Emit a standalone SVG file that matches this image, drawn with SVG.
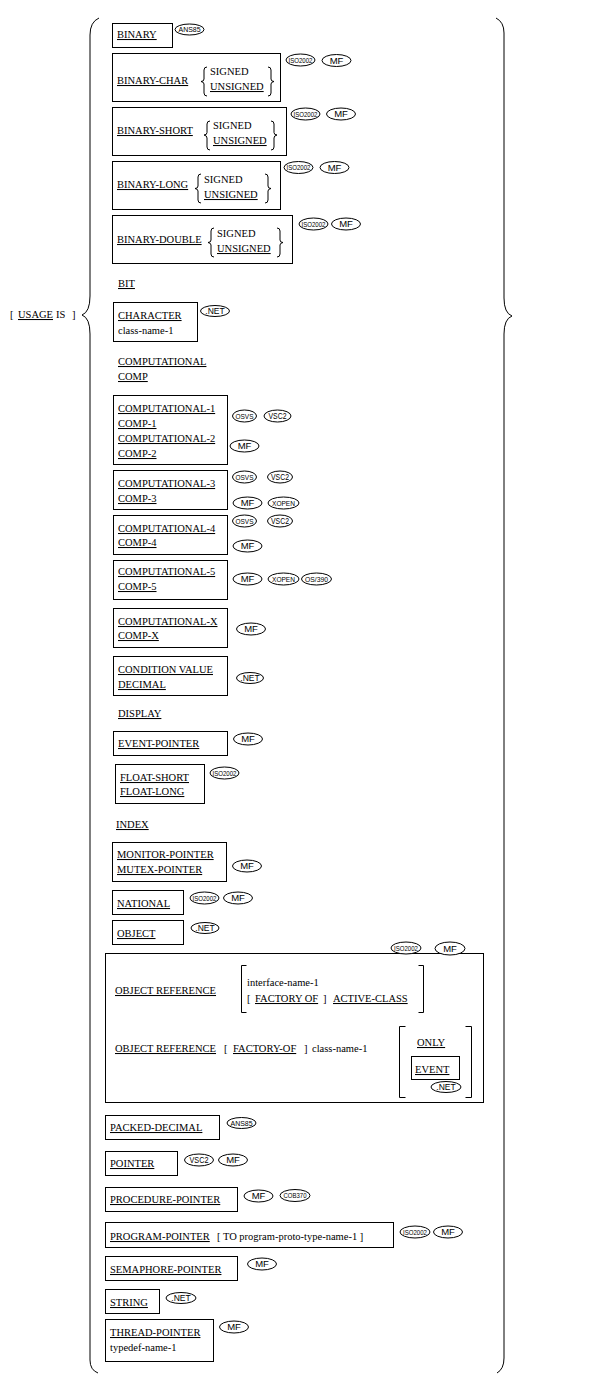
<svg xmlns="http://www.w3.org/2000/svg" width="595" height="1392" viewBox="0 0 595 1392">
<style>
.t{font-family:"Liberation Serif","Times New Roman",serif;font-size:10.5px;fill:#000}
.u{text-decoration:underline}
.box{fill:none;stroke:#000;stroke-width:1}
.br{fill:none;stroke:#000;stroke-width:1}
.bd ellipse{fill:#fff;stroke:#000;stroke-width:1}
.bd text{font-family:"Liberation Sans",Arial,sans-serif;text-anchor:middle;fill:#000}
.s{font-size:7.5px}
.m{font-size:9.5px}
.n{font-size:8.5px}
</style>
<rect width="595" height="1392" fill="#fff"/>
<g id="brackets">
  <path class="br" d="M99,18 Q90,22 90,35 L90,296 Q90,312 82,315 Q90,318 90,334 L90,1360 Q90,1370 98,1373"/>
  <path class="br" d="M496,18 Q504,22 504,33 L504,298 Q504,313 512,316 Q504,319 504,334 L504,1358 Q504,1369 497,1373"/>
</g>
<g id="usage">
  <text class="t" x="10" y="318">[</text>
  <text class="t u" x="18" y="318">USAGE</text>
  <text class="t" x="56" y="318">IS</text>
  <text class="t" x="72" y="318">]</text>
</g>
<g id="connectors"></g>

<g id="binary">
  <rect class="box" x="112.5" y="23.5" width="60" height="24"/>
  <text class="t u" x="117" y="38">BINARY</text>
  <g class="bd"><ellipse cx="189.5" cy="29.5" rx="14.5" ry="5.5"/><text class="s" x="189.5" y="32.2" textLength="22" lengthAdjust="spacingAndGlyphs">ANS85</text></g>
</g>
<g id="binary-char">
  <rect class="box" x="112.5" y="53.5" width="168" height="48"/>
  <text class="t u" x="117" y="84">BINARY-CHAR</text>
  <path class="br" d="M207,67 Q204,67 204,70 L204,79 Q204,81.5 201,81.5 Q204,82 204,84 L204,93 Q204,96 207,96"/>
  <text class="t" x="210" y="75">SIGNED</text>
  <text class="t u" x="210" y="90">UNSIGNED</text>
  <path class="br" d="M268,67 Q271,67 271,70 L271,79 Q271,81.5 274,81.5 Q271,82 271,84 L271,93 Q271,96 268,96"/>
  <g class="bd"><ellipse cx="300.5" cy="60" rx="14.5" ry="6"/><text class="s" x="300.5" y="62.7" textLength="24" lengthAdjust="spacingAndGlyphs">ISO2002</text></g>
  <g class="bd"><ellipse cx="336.5" cy="60.5" rx="14.5" ry="6"/><text class="m" x="336.5" y="63.9">MF</text></g>
</g>
<g id="binary-short">
  <rect class="box" x="112.5" y="107.5" width="174" height="48"/>
  <text class="t u" x="117" y="134">BINARY-SHORT</text>
  <path class="br" d="M210,121 Q207,121 207,124 L207,132.5 Q207,135 204,135 Q207,135.5 207,138 L207,147 Q207,150 210,150"/>
  <text class="t" x="213" y="129">SIGNED</text>
  <text class="t u" x="213" y="144">UNSIGNED</text>
  <path class="br" d="M271,121 Q274,121 274,124 L274,132.5 Q274,135 277,135 Q274,135.5 274,138 L274,147 Q274,150 271,150"/>
  <g class="bd"><ellipse cx="305.5" cy="114" rx="14.5" ry="6"/><text class="s" x="305.5" y="116.7" textLength="24" lengthAdjust="spacingAndGlyphs">ISO2002</text></g>
  <g class="bd"><ellipse cx="341" cy="114" rx="14.5" ry="6"/><text class="m" x="341" y="117.4">MF</text></g>
</g>
<g id="binary-long">
  <rect class="box" x="112.5" y="161.5" width="168" height="48"/>
  <text class="t u" x="117" y="188">BINARY-LONG</text>
  <path class="br" d="M201,174 Q198,174 198,177 L198,186 Q198,188.5 195,188.5 Q198,189 198,191 L198,200 Q198,203 201,203"/>
  <text class="t" x="204" y="183">SIGNED</text>
  <text class="t u" x="204" y="198">UNSIGNED</text>
  <path class="br" d="M265,174 Q268,174 268,177 L268,186 Q268,188.5 271,188.5 Q268,189 268,191 L268,200 Q268,203 265,203"/>
  <g class="bd"><ellipse cx="298.5" cy="167.5" rx="14.5" ry="6"/><text class="s" x="298.5" y="170.2" textLength="24" lengthAdjust="spacingAndGlyphs">ISO2002</text></g>
  <g class="bd"><ellipse cx="334.5" cy="167.5" rx="14.5" ry="6"/><text class="m" x="334.5" y="170.9">MF</text></g>
</g>
<g id="binary-double">
  <rect class="box" x="112.5" y="215.5" width="180" height="48"/>
  <text class="t u" x="117" y="243">BINARY-DOUBLE</text>
  <path class="br" d="M214,228 Q211,228 211,231 L211,240 Q211,242.5 208,242.5 Q211,243 211,245 L211,254 Q211,257 214,257"/>
  <text class="t" x="217" y="237">SIGNED</text>
  <text class="t u" x="217" y="252">UNSIGNED</text>
  <path class="br" d="M277,228 Q280,228 280,231 L280,240 Q280,242.5 283,242.5 Q280,243 280,245 L280,254 Q280,257 277,257"/>
  <g class="bd"><ellipse cx="313.5" cy="224" rx="14.5" ry="6"/><text class="s" x="313.5" y="226.7" textLength="24" lengthAdjust="spacingAndGlyphs">ISO2002</text></g>
  <g class="bd"><ellipse cx="346" cy="224" rx="14.5" ry="6"/><text class="m" x="346" y="227.4">MF</text></g>
</g>
<g id="bit">
  <text class="t u" x="118" y="287">BIT</text>
</g>
<g id="character">
  <rect class="box" x="113.5" y="302.5" width="84" height="39"/>
  <text class="t u" x="118" y="319">CHARACTER</text>
  <text class="t" x="118" y="334">class-name-1</text>
  <g class="bd"><ellipse cx="215" cy="311" rx="14.5" ry="5.5"/><text class="n" x="215" y="314">.NET</text></g>
</g>
<g id="computational">
  <text class="t u" x="118" y="365">COMPUTATIONAL</text>
  <text class="t u" x="118" y="380">COMP</text>
</g>
<g id="comp-1-2">
  <rect class="box" x="113.5" y="395.5" width="114" height="69"/>
  <text class="t u" x="118" y="412">COMPUTATIONAL-1</text>
  <text class="t u" x="118" y="427">COMP-1</text>
  <text class="t u" x="118" y="442">COMPUTATIONAL-2</text>
  <text class="t u" x="118" y="457">COMP-2</text>
  <g class="bd"><ellipse cx="244.5" cy="416" rx="12" ry="6"/><text class="s" x="244.5" y="418.7" textLength="18" lengthAdjust="spacingAndGlyphs">OSVS</text></g>
  <g class="bd"><ellipse cx="277.5" cy="416" rx="13.5" ry="6"/><text class="n" x="277.5" y="419" textLength="18" lengthAdjust="spacingAndGlyphs">VSC2</text></g>
  <g class="bd"><ellipse cx="244.5" cy="446" rx="14.5" ry="6"/><text class="m" x="244.5" y="449.4">MF</text></g>
</g>
<g id="comp-3">
  <rect class="box" x="113.5" y="470.5" width="114" height="39"/>
  <text class="t u" x="118" y="487">COMPUTATIONAL-3</text>
  <text class="t u" x="118" y="502">COMP-3</text>
  <g class="bd"><ellipse cx="244.5" cy="477" rx="12" ry="6"/><text class="s" x="244.5" y="479.7" textLength="18" lengthAdjust="spacingAndGlyphs">OSVS</text></g>
  <g class="bd"><ellipse cx="280" cy="477" rx="12.5" ry="6"/><text class="n" x="280" y="480" textLength="18" lengthAdjust="spacingAndGlyphs">VSC2</text></g>
  <g class="bd"><ellipse cx="247.5" cy="503" rx="14.5" ry="6"/><text class="m" x="247.5" y="506.4">MF</text></g>
  <g class="bd"><ellipse cx="283.5" cy="503" rx="15.5" ry="6"/><text class="s" x="283.5" y="505.7" textLength="23" lengthAdjust="spacingAndGlyphs">XOPEN</text></g>
</g>
<g id="comp-4">
  <rect class="box" x="113.5" y="515.5" width="114" height="39"/>
  <text class="t u" x="118" y="532">COMPUTATIONAL-4</text>
  <text class="t u" x="118" y="546">COMP-4</text>
  <g class="bd"><ellipse cx="244.5" cy="521" rx="12" ry="6"/><text class="s" x="244.5" y="523.7" textLength="18" lengthAdjust="spacingAndGlyphs">OSVS</text></g>
  <g class="bd"><ellipse cx="280" cy="521" rx="12.5" ry="6"/><text class="n" x="280" y="524" textLength="18" lengthAdjust="spacingAndGlyphs">VSC2</text></g>
  <g class="bd"><ellipse cx="247.5" cy="546" rx="14.5" ry="6"/><text class="m" x="247.5" y="549.4">MF</text></g>
</g>
<g id="comp-5">
  <rect class="box" x="113.5" y="560.5" width="114" height="39"/>
  <text class="t u" x="118" y="575">COMPUTATIONAL-5</text>
  <text class="t u" x="118" y="590">COMP-5</text>
  <g class="bd"><ellipse cx="247.5" cy="579" rx="14.5" ry="6"/><text class="m" x="247.5" y="582.4">MF</text></g>
  <g class="bd"><ellipse cx="283.5" cy="579" rx="15.5" ry="6"/><text class="s" x="283.5" y="581.7" textLength="23" lengthAdjust="spacingAndGlyphs">XOPEN</text></g>
  <g class="bd"><ellipse cx="316.5" cy="579" rx="15" ry="6"/><text class="s" x="316.5" y="581.7" textLength="23" lengthAdjust="spacingAndGlyphs">OS/390</text></g>
</g>
<g id="comp-x">
  <rect class="box" x="113.5" y="608.5" width="114" height="39"/>
  <text class="t u" x="118" y="625">COMPUTATIONAL-X</text>
  <text class="t u" x="118" y="639">COMP-X</text>
  <g class="bd"><ellipse cx="251" cy="629" rx="14.5" ry="6"/><text class="m" x="251" y="632.4">MF</text></g>
</g>
<g id="condition-value">
  <rect class="box" x="113.5" y="656.5" width="114" height="39"/>
  <text class="t u" x="118" y="673">CONDITION VALUE</text>
  <text class="t u" x="118" y="688">DECIMAL</text>
  <g class="bd"><ellipse cx="250" cy="678" rx="13.5" ry="5.5"/><text class="n" x="250" y="681">.NET</text></g>
</g>
<g id="display">
  <text class="t u" x="118" y="717">DISPLAY</text>
</g>
<g id="event-pointer">
  <rect class="box" x="113.5" y="731.5" width="114" height="24"/>
  <text class="t u" x="118" y="747">EVENT-POINTER</text>
  <g class="bd"><ellipse cx="248" cy="739" rx="14.5" ry="6"/><text class="m" x="248" y="742.4">MF</text></g>
</g>
<g id="float">
  <rect class="box" x="115.5" y="764.5" width="89" height="39"/>
  <text class="t u" x="120" y="781">FLOAT-SHORT</text>
  <text class="t u" x="120" y="795">FLOAT-LONG</text>
  <g class="bd"><ellipse cx="224.5" cy="773" rx="14.5" ry="6"/><text class="s" x="224.5" y="775.7" textLength="24" lengthAdjust="spacingAndGlyphs">ISO2002</text></g>
</g>
<g id="index">
  <text class="t u" x="116" y="828">INDEX</text>
</g>
<g id="monitor-pointer">
  <rect class="box" x="112.5" y="842.5" width="114" height="39"/>
  <text class="t u" x="117" y="858">MONITOR-POINTER</text>
  <text class="t u" x="117" y="873">MUTEX-POINTER</text>
  <g class="bd"><ellipse cx="247" cy="866" rx="14.5" ry="6"/><text class="m" x="247" y="869.4">MF</text></g>
</g>
<g id="national">
  <rect class="box" x="112.5" y="890.5" width="71" height="24"/>
  <text class="t u" x="117" y="907">NATIONAL</text>
  <g class="bd"><ellipse cx="204.5" cy="898" rx="14.5" ry="6"/><text class="s" x="204.5" y="900.7" textLength="24" lengthAdjust="spacingAndGlyphs">ISO2002</text></g>
  <g class="bd"><ellipse cx="238" cy="898" rx="14.5" ry="6"/><text class="m" x="238" y="901.4">MF</text></g>
</g>
<g id="object">
  <rect class="box" x="112.5" y="920.5" width="71" height="24"/>
  <text class="t u" x="117" y="937">OBJECT</text>
  <g class="bd"><ellipse cx="205" cy="928" rx="14" ry="5.5"/><text class="n" x="205" y="931">.NET</text></g>
</g>
<g id="object-reference">
  <rect class="box" x="105.5" y="953.5" width="378" height="149"/>
  <g class="bd"><ellipse cx="406" cy="948" rx="15" ry="6"/><text class="s" x="406" y="950.7" textLength="24" lengthAdjust="spacingAndGlyphs">ISO2002</text></g>
  <g class="bd"><ellipse cx="450" cy="948.5" rx="15" ry="6.5"/><text class="m" x="450" y="951.9">MF</text></g>
  <text class="t u" x="115" y="994">OBJECT REFERENCE</text>
  <path class="br" d="M246.5,965.5 H241.5 V1012.5 H246.5"/>
  <text class="t" x="247" y="986">interface-name-1</text>
  <text class="t" x="247" y="1002">[</text>
  <text class="t u" x="255" y="1002">FACTORY OF</text>
  <text class="t" x="323" y="1002">]</text>
  <text class="t u" x="333" y="1002">ACTIVE-CLASS</text>
  <path class="br" d="M418.5,965.5 H423.5 V1012.5 H418.5"/>
  <text class="t u" x="115" y="1052">OBJECT REFERENCE</text>
  <text class="t" x="224" y="1052">[</text>
  <text class="t u" x="233" y="1052">FACTORY-OF</text>
  <text class="t" x="304" y="1052">]</text>
  <text class="t" x="312" y="1052">class-name-1</text>
  <path class="br" d="M405.5,1026.5 H399.5 V1097.5 H405.5"/>
  <text class="t u" x="417" y="1046">ONLY</text>
  <rect class="box" x="411.5" y="1056.5" width="48" height="23"/>
  <text class="t u" x="415" y="1073">EVENT</text>
  <g class="bd"><ellipse cx="446" cy="1087" rx="15" ry="5.5"/><text class="n" x="446" y="1090">.NET</text></g>
  <path class="br" d="M465.5,1026.5 H471.5 V1097.5 H465.5"/>
</g>
<g id="packed-decimal">
  <rect class="box" x="105.5" y="1115.5" width="114" height="24"/>
  <text class="t u" x="110" y="1131">PACKED-DECIMAL</text>
  <g class="bd"><ellipse cx="241.5" cy="1123" rx="14.5" ry="5.5"/><text class="s" x="241.5" y="1125.7" textLength="22" lengthAdjust="spacingAndGlyphs">ANS85</text></g>
</g>
<g id="pointer">
  <rect class="box" x="105.5" y="1151.5" width="72" height="24"/>
  <text class="t u" x="110" y="1167">POINTER</text>
  <g class="bd"><ellipse cx="199" cy="1160" rx="14.5" ry="6"/><text class="n" x="199" y="1163" textLength="19" lengthAdjust="spacingAndGlyphs">VSC2</text></g>
  <g class="bd"><ellipse cx="233" cy="1160" rx="14.5" ry="6"/><text class="m" x="233" y="1163.4">MF</text></g>
</g>
<g id="procedure-pointer">
  <rect class="box" x="105.5" y="1187.5" width="132" height="24"/>
  <text class="t u" x="110" y="1203">PROCEDURE-POINTER</text>
  <g class="bd"><ellipse cx="258.5" cy="1196" rx="14.5" ry="6"/><text class="m" x="258.5" y="1199.4">MF</text></g>
  <g class="bd"><ellipse cx="295" cy="1195.5" rx="15" ry="6"/><text class="s" x="295" y="1198.2" textLength="23" lengthAdjust="spacingAndGlyphs">COB370</text></g>
</g>
<g id="program-pointer">
  <rect class="box" x="105.5" y="1222.5" width="288" height="25"/>
  <text class="t u" x="110" y="1240">PROGRAM-POINTER</text>
  <text class="t" x="217" y="1240">[ TO program-proto-type-name-1 ]</text>
  <g class="bd"><ellipse cx="415" cy="1232" rx="15" ry="6"/><text class="s" x="415" y="1234.7" textLength="24" lengthAdjust="spacingAndGlyphs">ISO2002</text></g>
  <g class="bd"><ellipse cx="448" cy="1232" rx="14.5" ry="6"/><text class="m" x="448" y="1235.4">MF</text></g>
</g>
<g id="semaphore-pointer">
  <rect class="box" x="105.5" y="1256.5" width="132" height="24"/>
  <text class="t u" x="110" y="1273">SEMAPHORE-POINTER</text>
  <g class="bd"><ellipse cx="262" cy="1264" rx="14.5" ry="6"/><text class="m" x="262" y="1267.4">MF</text></g>
</g>
<g id="string">
  <rect class="box" x="105.5" y="1289.5" width="54" height="24"/>
  <text class="t u" x="110" y="1306">STRING</text>
  <g class="bd"><ellipse cx="181" cy="1298" rx="15" ry="5.5"/><text class="n" x="181" y="1301">.NET</text></g>
</g>
<g id="thread-pointer">
  <rect class="box" x="105.5" y="1319.5" width="108" height="42"/>
  <text class="t u" x="110" y="1336">THREAD-POINTER</text>
  <text class="t" x="110" y="1351">typedef-name-1</text>
  <g class="bd"><ellipse cx="234" cy="1327" rx="14.5" ry="6"/><text class="m" x="234" y="1330.4">MF</text></g>
</g>
</svg>
